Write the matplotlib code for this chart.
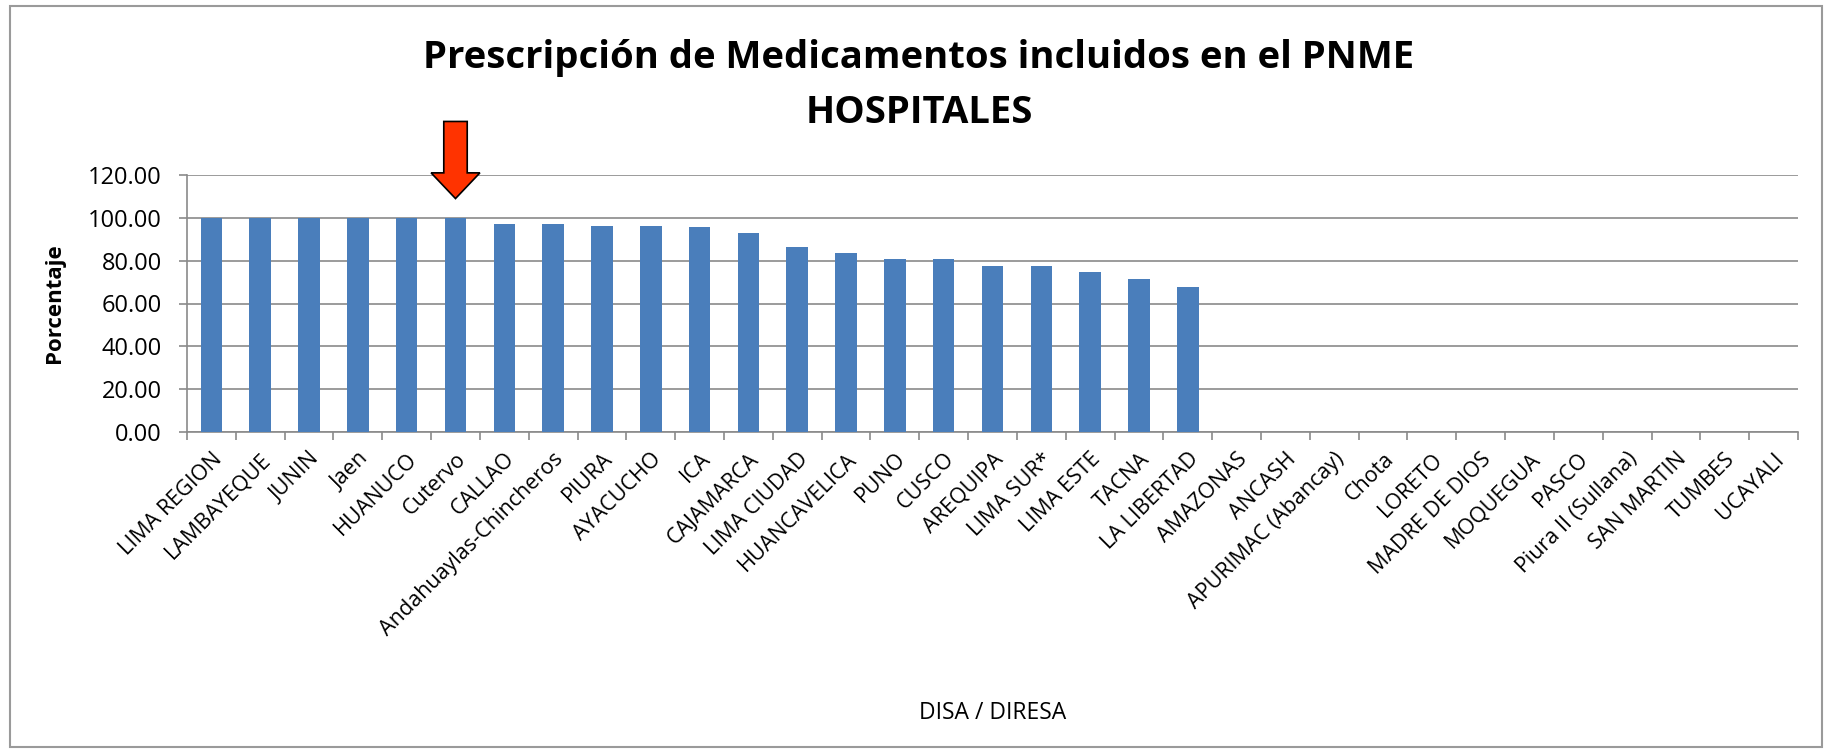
import matplotlib.pyplot as plt
from matplotlib.patches import Rectangle, FancyArrow
import numpy as np

categorias = ['LIMA REGION', 'LAMBAYEQUE', 'JUNIN', 'Jaen', 'HUANUCO', 'Cutervo',
              'CALLAO', 'Andahuaylas-Chincheros', 'PIURA', 'AYACUCHO', 'ICA',
              'CAJAMARCA', 'LIMA CIUDAD', 'HUANCAVELICA', 'PUNO', 'CUSCO',
              'AREQUIPA', 'LIMA SUR*', 'LIMA ESTE', 'TACNA', 'LA LIBERTAD',
              'AMAZONAS', 'ANCASH', 'APURIMAC (Abancay)', 'Chota', 'LORETO',
              'MADRE DE DIOS', 'MOQUEGUA', 'PASCO', 'Piura II (Sullana)',
              'SAN MARTIN', 'TUMBES', 'UCAYALI']
porcentaje = [100.0, 100.0, 100.0, 100.0, 100.0, 100.0,
              97.2, 97.2, 96.4, 96.4, 95.6,
              92.7, 86.6, 83.5, 80.7, 80.7,
              77.6, 77.6, 74.6, 71.5, 67.9,
              0, 0, 0, 0, 0, 0, 0, 0, 0, 0, 0, 0]
yticks = [0, 20, 40, 60, 80, 100, 120]
destacado = 'Cutervo'

plt.rcParams['font.family'] = ['Open Sans', 'DejaVu Sans']

fig = plt.figure(figsize=(18.31, 7.52), dpi=100)
ax = fig.add_axes([187 / 1831, 1 - 432 / 752, (1798 - 187) / 1831, (432 - 175) / 752])

x = np.arange(len(categorias))
ax.bar(x, porcentaje, width=0.44, color='#4a7ebb', zorder=3)

ax.set_xlim(-0.5, len(categorias) - 0.5)
ax.set_ylim(0, 120)
ax.set_yticks(yticks)
ax.set_yticklabels(['%.2f' % v for v in yticks], fontsize=17)
ax.yaxis.grid(True, color='#8a8a8a', linewidth=1.2, zorder=0)

# ticks entre categorias, etiquetas en el centro
ax.set_xticks(np.arange(len(categorias) + 1) - 0.5)
ax.set_xticklabels([])
ax.set_xticks(x, minor=True)
ax.set_xticklabels(categorias, minor=True, rotation=45, ha='right',
                   rotation_mode='anchor', fontsize=15.5)
ax.tick_params(axis='x', which='minor', length=0, pad=12)
ax.tick_params(axis='x', which='major', length=6, color='#8a8a8a', width=1.2)
ax.tick_params(axis='y', length=6, color='#8a8a8a', width=1.2, pad=12)

for s in ['top', 'right']:
    ax.spines[s].set_visible(False)
for s in ['left', 'bottom']:
    ax.spines[s].set_color('#8a8a8a')
    ax.spines[s].set_linewidth(1.2)

ax.set_ylabel('Porcentaje', fontsize=16, fontweight='bold')
ax.yaxis.set_label_coords(-122 / 1611, 0.5)
ax.set_xlabel('DISA / DIRESA', fontsize=16.5)
ax.xaxis.set_label_coords(0.5, -1.045)

fig.text(919 / 1831, 1 - 58 / 752, 'Prescripción de Medicamentos incluidos en el PNME',
         ha='center', va='center', fontsize=27.5, fontweight='bold')
fig.text(919 / 1831, 1 - 113 / 752, 'HOSPITALES',
         ha='center', va='center', fontsize=27.5, fontweight='bold')

# flecha roja sobre Cutervo
i = categorias.index(destacado)
flecha = FancyArrow(i, 145, 0, -36, width=0.48, head_width=1.0, head_length=12,
                    length_includes_head=True, facecolor='#ff3300',
                    edgecolor='black', linewidth=1.2, clip_on=False, zorder=5)
ax.add_patch(flecha)

fig.patches.append(Rectangle((10 / 1831, 5 / 752), 1812 / 1831, 741 / 752,
                             transform=fig.transFigure, fill=False,
                             edgecolor='#9a9a9a', linewidth=1.5))

fig.savefig('out.png', dpi=100, facecolor='white')
